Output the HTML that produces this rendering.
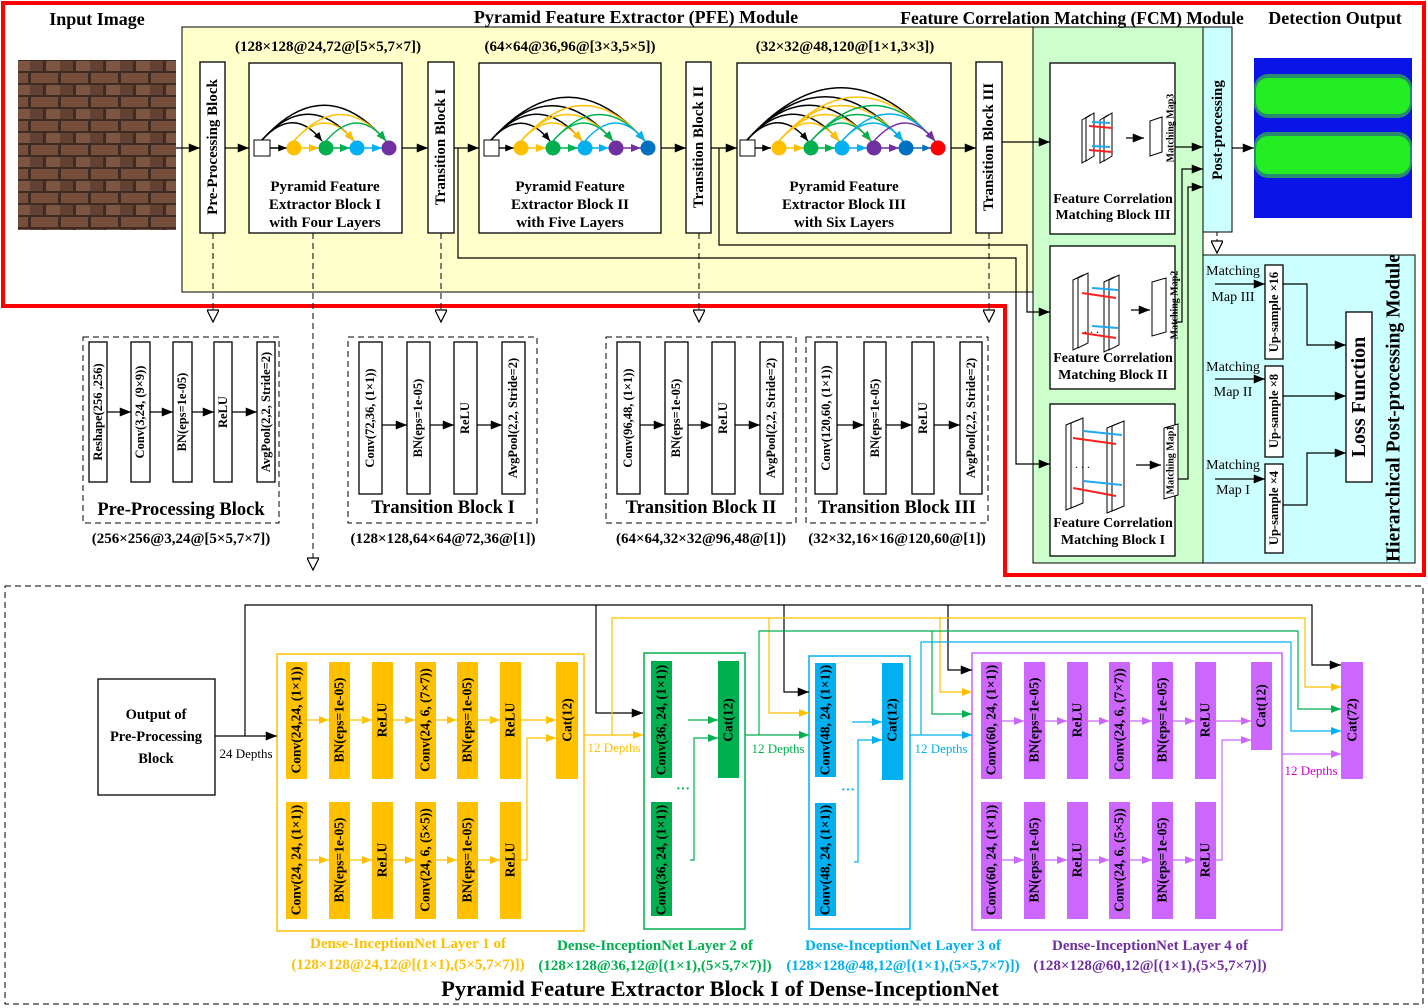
<!DOCTYPE html>
<html><head><meta charset="utf-8"><style>
html,body{margin:0;padding:0;background:#fff}
svg{display:block}
text{font-family:"Liberation Serif",serif}
.b{font-weight:bold}
.v{text-anchor:middle;dominant-baseline:central}
</style></head><body>
<svg width="1428" height="1008" viewBox="0 0 1428 1008" xmlns="http://www.w3.org/2000/svg">
<defs>
<marker id="a" viewBox="0 0 10 8" refX="10" refY="4" markerWidth="14" markerHeight="9" markerUnits="userSpaceOnUse" orient="auto"><path d="M0 0L10 4L0 8z" fill="#000"/></marker>
<marker id="as" viewBox="0 0 10 8" refX="10" refY="4" markerWidth="9" markerHeight="7" markerUnits="userSpaceOnUse" orient="auto"><path d="M0 0L10 4L0 8z" fill="#000"/></marker>
<marker id="ay" viewBox="0 0 10 8" refX="10" refY="4" markerWidth="10" markerHeight="8" markerUnits="userSpaceOnUse" orient="auto"><path d="M0 0L10 4L0 8z" fill="#ffc000"/></marker>
<marker id="ag" viewBox="0 0 10 8" refX="10" refY="4" markerWidth="10" markerHeight="8" markerUnits="userSpaceOnUse" orient="auto"><path d="M0 0L10 4L0 8z" fill="#00b050"/></marker>
<marker id="ac" viewBox="0 0 10 8" refX="10" refY="4" markerWidth="10" markerHeight="8" markerUnits="userSpaceOnUse" orient="auto"><path d="M0 0L10 4L0 8z" fill="#00b0f0"/></marker>
<marker id="ap" viewBox="0 0 10 8" refX="10" refY="4" markerWidth="10" markerHeight="8" markerUnits="userSpaceOnUse" orient="auto"><path d="M0 0L10 4L0 8z" fill="#7030a0"/></marker>
<marker id="am" viewBox="0 0 10 8" refX="10" refY="4" markerWidth="10" markerHeight="8" markerUnits="userSpaceOnUse" orient="auto"><path d="M0 0L10 4L0 8z" fill="#cc66ff"/></marker>
<marker id="ab" viewBox="0 0 10 8" refX="10" refY="4" markerWidth="9" markerHeight="7" markerUnits="userSpaceOnUse" orient="auto"><path d="M0 0L10 4L0 8z" fill="#0070c0"/></marker>
<marker id="ao" viewBox="0 0 10 10" refX="5" refY="10" markerWidth="12" markerHeight="16" markerUnits="userSpaceOnUse" orient="0"><path d="M0 0L10 0L5 10z" fill="#fff" stroke="#000" stroke-width="1"/></marker>
<pattern id="brick" width="30" height="24" patternUnits="userSpaceOnUse">
<rect width="30" height="24" fill="#3b2a22"/>
<rect x="1" y="1" width="27" height="10" fill="#8a5d47"/>
<rect x="-14" y="13" width="27" height="10" fill="#6f4a3a"/>
<rect x="16" y="13" width="27" height="10" fill="#93684f"/>
</pattern>
</defs>

<rect x="182" y="27" width="851" height="265" fill="#ffffcc" stroke="#000" stroke-width="1"/>
<rect x="1033" y="27" width="170" height="536" fill="#ccffcc" stroke="#000" stroke-width="1"/>
<rect x="1203" y="27" width="29" height="205" fill="#ccffff" stroke="#000" stroke-width="1"/>
<rect x="1203" y="255" width="212" height="308" fill="#ccffff" stroke="#000" stroke-width="1"/>
<path d="M3 3H1424V575H1005V306H3Z" fill="none" stroke="#ff0000" stroke-width="4"/>

<text x="97" y="25" class="b" font-size="18" text-anchor="middle">Input Image</text>
<text x="636" y="23" class="b" font-size="18" text-anchor="middle">Pyramid Feature Extractor (PFE) Module</text>
<text x="1072" y="24" class="b" font-size="17.5" text-anchor="middle">Feature Correlation Matching (FCM) Module</text>
<text x="1335" y="24" class="b" font-size="18" text-anchor="middle">Detection Output</text>

<rect x="18" y="60" width="158" height="170" fill="url(#brick)"/>
<rect x="18" y="60" width="158" height="170" fill="#4a3025" opacity="0.3"/>

<rect x="1254" y="58" width="158" height="160" fill="#0a14e6"/>
<rect x="1254" y="74" width="158" height="44" rx="14" fill="#2a8a70"/>
<rect x="1256" y="78" width="154" height="36" rx="12" fill="#22ee22"/>
<rect x="1254" y="132" width="158" height="46" rx="14" fill="#2a8a70"/>
<rect x="1256" y="136" width="154" height="38" rx="12" fill="#22ee22"/>

<text x="328" y="51" class="b" font-size="15" text-anchor="middle">(128×128@24,72@[5×5,7×7])</text>
<text x="570" y="51" class="b" font-size="15" text-anchor="middle">(64×64@36,96@[3×3,5×5])</text>
<text x="845" y="51" class="b" font-size="15" text-anchor="middle">(32×32@48,120@[1×1,3×3])</text>

<g fill="#fff" stroke="#000" stroke-width="1.3">
<rect x="200" y="62" width="25" height="171"/>
<rect x="249" y="63" width="153" height="170"/>
<rect x="428" y="62" width="26" height="171"/>
<rect x="479" y="63" width="182" height="170"/>
<rect x="686" y="62" width="25" height="171"/>
<rect x="737" y="63" width="214" height="170"/>
<rect x="976" y="62" width="26" height="171"/>
</g>
<g class="b" font-size="15">
<text x="213" y="147" class="v" transform="rotate(-90 213 147)">Pre-Processing Block</text>
<text x="441" y="147" class="v" transform="rotate(-90 441 147)">Transition Block I</text>
<text x="699" y="147" class="v" transform="rotate(-90 699 147)">Transition Block II</text>
<text x="989" y="147" class="v" transform="rotate(-90 989 147)">Transition Block III</text>
</g>
<g class="b" font-size="15" text-anchor="middle">
<text x="325" y="191">Pyramid Feature</text><text x="325" y="209">Extractor Block I</text><text x="325" y="227">with Four Layers</text>
<text x="570" y="191">Pyramid Feature</text><text x="570" y="209">Extractor Block II</text><text x="570" y="227">with Five Layers</text>
<text x="844" y="191">Pyramid Feature</text><text x="844" y="209">Extractor Block III</text><text x="844" y="227">with Six Layers</text>
</g>

<g stroke="#000" stroke-width="1.2" fill="none" marker-end="url(#a)">
<line x1="176" y1="148" x2="200" y2="148"/>
<line x1="225" y1="148" x2="249" y2="148"/>
<line x1="402" y1="148" x2="428" y2="148"/>
<line x1="454" y1="148" x2="479" y2="148"/>
<line x1="661" y1="148" x2="686" y2="148"/>
<line x1="711" y1="148" x2="737" y2="148"/>
<line x1="951" y1="148" x2="976" y2="148"/>
<line x1="1002" y1="142" x2="1050" y2="142"/>
<polyline points="458,148 458,258 1016,258 1016,464 1050,464"/>
<polyline points="719,148 719,245 1027,245 1027,312 1050,312"/>
<line x1="1175" y1="147" x2="1203" y2="147"/>
<polyline points="1175,322 1182,322 1182,169 1203,169"/>
<polyline points="1177,479 1188,479 1188,187 1203,187"/>
<line x1="1232" y1="148" x2="1254" y2="148"/>
</g>

<g fill="none" stroke-width="1.4">
<g stroke="#000" marker-end="url(#as)">
<path d="M262 140Q294 105 322 141"/><path d="M262 140Q309 88 354 141"/><path d="M262 140Q325 70 386 141"/>
<line x1="270" y1="148" x2="287" y2="148"/>
</g>
<g stroke="#ffc000" marker-end="url(#ay)"><path d="M294 141Q325 105 354 141"/><path d="M294 141Q341 88 386 141"/><line x1="301" y1="148" x2="319" y2="148"/></g>
<g stroke="#00b050" marker-end="url(#ag)"><path d="M326 141Q357 105 386 141"/><line x1="333" y1="148" x2="350" y2="148"/></g>
<g stroke="#00b0f0" marker-end="url(#ac)"><line x1="364" y1="148" x2="382" y2="148"/></g>
</g>
<rect x="254" y="140" width="16" height="16" fill="#fff" stroke="#000"/>
<circle cx="294" cy="148" r="7.5" fill="#ffc000"/><circle cx="326" cy="148" r="7.5" fill="#00b050"/><circle cx="357" cy="148" r="7.5" fill="#00b0f0"/><circle cx="389" cy="148" r="7.5" fill="#7030a0"/>

<g fill="none" stroke-width="1.4">
<g stroke="#000" marker-end="url(#as)">
<path d="M491 140Q522 106 550 141"/><path d="M491 140Q538 88 582 141"/><path d="M491 140Q553 71 613 141"/><path d="M491 140Q569 54 645 141"/>
<line x1="499" y1="148" x2="514" y2="148"/>
</g>
<g stroke="#ffc000" marker-end="url(#ay)"><path d="M521 141Q553 105 582 141"/><path d="M521 141Q568 88 613 141"/><path d="M521 141Q584 70 645 141"/><line x1="528" y1="148" x2="546" y2="148"/></g>
<g stroke="#00b050" marker-end="url(#ag)"><path d="M553 141Q584 105 613 141"/><path d="M553 141Q600 88 645 141"/><line x1="560" y1="148" x2="578" y2="148"/></g>
<g stroke="#00b0f0" marker-end="url(#ac)"><path d="M585 141Q616 105 645 141"/><line x1="592" y1="148" x2="609" y2="148"/></g>
<g stroke="#7030a0" marker-end="url(#ap)"><line x1="623" y1="148" x2="641" y2="148"/></g>
</g>
<rect x="484" y="140" width="15" height="16" fill="#fff" stroke="#000"/>
<circle cx="521" cy="148" r="7.5" fill="#ffc000"/><circle cx="553" cy="148" r="7.5" fill="#00b050"/><circle cx="585" cy="148" r="7.5" fill="#00b0f0"/><circle cx="616" cy="148" r="7.5" fill="#7030a0"/><circle cx="648" cy="148" r="7.5" fill="#0070c0"/>

<g fill="none" stroke-width="1.4">
<g stroke="#000" marker-end="url(#as)">
<path d="M747 140Q779 105 808 141"/><path d="M747 140Q794 88 839 141"/><path d="M747 140Q810 70 871 141"/><path d="M747 140Q826 53 903 141"/><path d="M747 140Q842 35 935 141"/>
<line x1="755" y1="148" x2="771" y2="148"/>
</g>
<g stroke="#ffc000" marker-end="url(#ay)"><path d="M779 141Q810 105 839 141"/><path d="M779 141Q826 88 871 141"/><path d="M779 141Q842 70 903 141"/><path d="M779 141Q858 53 935 141"/><line x1="786" y1="148" x2="804" y2="148"/></g>
<g stroke="#00b050" marker-end="url(#ag)"><path d="M811 141Q842 105 871 141"/><path d="M811 141Q858 88 903 141"/><path d="M811 141Q874 70 935 141"/><line x1="818" y1="148" x2="835" y2="148"/></g>
<g stroke="#00b0f0" marker-end="url(#ac)"><path d="M842 141Q874 105 903 141"/><path d="M842 141Q890 87 935 141"/><line x1="849" y1="148" x2="867" y2="148"/></g>
<g stroke="#7030a0" marker-end="url(#ap)"><path d="M874 141Q906 105 935 141"/><line x1="881" y1="148" x2="899" y2="148"/></g>
<g stroke="#0070c0" marker-end="url(#ab)"><line x1="913" y1="148" x2="931" y2="148"/></g>
</g>
<rect x="740" y="140" width="15" height="16" fill="#fff" stroke="#000"/>
<circle cx="779" cy="148" r="7.5" fill="#ffc000"/><circle cx="811" cy="148" r="7.5" fill="#00b050"/><circle cx="842" cy="148" r="7.5" fill="#00b0f0"/><circle cx="874" cy="148" r="7.5" fill="#7030a0"/><circle cx="906" cy="148" r="7.5" fill="#0070c0"/><circle cx="938" cy="148" r="7.5" fill="#ff0000"/>

<g fill="#fff" stroke="#000" stroke-width="1.3">
<rect x="1050" y="63" width="125" height="171"/>
<rect x="1050" y="246" width="125" height="143"/>
<rect x="1050" y="404" width="125" height="152"/>
</g>
<g stroke="#000" fill="#fff" stroke-width="1">
<path d="M1082 120L1090 115V158L1082 163Z"/><path d="M1086 118L1094 113V156L1086 161Z"/><path d="M1100 120L1108 115V158L1100 163Z"/><path d="M1104 118L1112 113V156L1104 161Z"/>
<path d="M1150 121L1162 117V152L1150 156Z"/>
<path d="M1073 280L1083 275V345L1073 350Z"/><path d="M1078 278L1088 273V343L1078 348Z"/><path d="M1104 282L1114 277V347L1104 352Z"/><path d="M1109 280L1119 275V345L1109 350Z"/>
<path d="M1152 282L1166 278V332L1152 336Z"/>
<path d="M1066 425L1078 420V505L1066 510Z"/><path d="M1071 423L1083 418V503L1071 508Z"/><path d="M1107 428L1119 423V508L1107 513Z"/><path d="M1112 426L1124 421V506L1112 511Z"/>
<path d="M1164 428L1178 424V495L1164 499Z"/>
</g>
<g stroke-width="2">
<line x1="1089" y1="126" x2="1112" y2="128" stroke="#ff2020"/><line x1="1089" y1="150" x2="1112" y2="152" stroke="#ff2020"/>
<line x1="1092" y1="122" x2="1110" y2="123" stroke="#20a8f0"/><line x1="1092" y1="146" x2="1110" y2="147" stroke="#20a8f0"/>
<line x1="1082" y1="293" x2="1116" y2="298" stroke="#ff2020"/><line x1="1082" y1="333" x2="1116" y2="338" stroke="#ff2020"/>
<line x1="1092" y1="288" x2="1118" y2="290" stroke="#20a8f0"/><line x1="1092" y1="326" x2="1118" y2="328" stroke="#20a8f0"/>
<line x1="1073" y1="438" x2="1116" y2="444" stroke="#ff2020"/><line x1="1073" y1="488" x2="1116" y2="496" stroke="#ff2020"/>
<line x1="1083" y1="431" x2="1122" y2="435" stroke="#20a8f0"/><line x1="1083" y1="481" x2="1122" y2="485" stroke="#20a8f0"/>
</g>
<g fill="#000"><text x="1084" y="333" font-size="12">. . .</text><text x="1075" y="468" font-size="12">. . .</text></g>
<g stroke="#000" stroke-width="1.2" marker-end="url(#a)">
<line x1="1126" y1="138" x2="1144" y2="138"/><line x1="1131" y1="310" x2="1150" y2="310"/><line x1="1136" y1="465" x2="1161" y2="465"/>
</g>
<g class="b" font-size="10">
<text x="1171" y="128" class="v" transform="rotate(-90 1171 128)">Matching Map3</text>
<text x="1175" y="305" class="v" transform="rotate(-90 1175 305)">Matching Map2</text>
<text x="1171" y="460" class="v" transform="rotate(-90 1171 460)">Matching Map1</text>
</g>
<g class="b" font-size="14" text-anchor="middle">
<text x="1113" y="203">Feature Correlation</text><text x="1113" y="219">Matching Block III</text>
<text x="1113" y="362">Feature Correlation</text><text x="1113" y="379">Matching Block II</text>
<text x="1113" y="527">Feature Correlation</text><text x="1113" y="544">Matching Block I</text>
</g>
<text x="1218" y="130" class="b v" font-size="15" transform="rotate(-90 1218 130)">Post-processing</text>
<line x1="1217" y1="232" x2="1217" y2="253" stroke="#000" stroke-dasharray="4 3" marker-end="url(#ao)"/>

<g fill="#fff" stroke="#000" stroke-width="1.3">
<rect x="1265" y="265" width="18" height="94"/><rect x="1265" y="366" width="18" height="91"/><rect x="1265" y="464" width="18" height="89"/>
<rect x="1346" y="312" width="26" height="170"/>
</g>
<g class="b" font-size="12.5">
<text x="1274" y="312" class="v" transform="rotate(-90 1274 312)">Up-sample ×16</text>
<text x="1274" y="411" class="v" transform="rotate(-90 1274 411)">Up-sample ×8</text>
<text x="1274" y="508" class="v" transform="rotate(-90 1274 508)">Up-sample ×4</text>
</g>
<text x="1359" y="397" class="b v" font-size="20" transform="rotate(-90 1359 397)">Loss Function</text>
<text x="1394" y="408" class="b v" font-size="19.5" transform="rotate(-90 1394 408)">Hierarchical Post-processing Module</text>
<g font-size="14" text-anchor="middle">
<text x="1233" y="275">Matching</text><text x="1233" y="301">Map III</text>
<text x="1233" y="371">Matching</text><text x="1233" y="396">Map II</text>
<text x="1233" y="469">Matching</text><text x="1233" y="494">Map I</text>
</g>
<g stroke="#000" stroke-width="1.2" fill="none" marker-end="url(#a)">
<line x1="1215" y1="284" x2="1265" y2="284"/><line x1="1215" y1="379" x2="1265" y2="379"/><line x1="1215" y1="479" x2="1265" y2="479"/>
<polyline points="1283,284 1307,284 1307,345 1346,345"/>
<line x1="1283" y1="396" x2="1346" y2="396"/>
<polyline points="1283,505 1307,505 1307,453 1346,453"/>
</g>

<g stroke="#000" stroke-width="1" stroke-dasharray="6 4" fill="none">
<line x1="213" y1="233" x2="213" y2="322" marker-end="url(#ao)"/>
<line x1="441" y1="233" x2="441" y2="322" marker-end="url(#ao)"/>
<line x1="699" y1="233" x2="699" y2="322" marker-end="url(#ao)"/>
<line x1="989" y1="233" x2="989" y2="322" marker-end="url(#ao)"/>
<line x1="313" y1="233" x2="313" y2="570" marker-end="url(#ao)"/>
<rect x="83" y="337" width="196" height="186"/>
<rect x="348" y="337" width="189" height="186"/>
<rect x="606" y="337" width="190" height="186"/>
<rect x="806" y="337" width="182" height="186"/>
<rect x="5" y="586" width="1418" height="418"/>
</g>

<g fill="#fff" stroke="#000" stroke-width="1.3">
<rect x="89" y="342" width="18" height="140"/><rect x="131" y="342" width="19" height="140"/><rect x="173" y="342" width="19" height="140"/><rect x="214" y="342" width="18" height="140"/><rect x="257" y="342" width="18" height="140"/>
<rect x="359" y="342" width="23" height="152"/><rect x="407" y="342" width="23" height="152"/><rect x="454" y="342" width="23" height="152"/><rect x="502" y="342" width="23" height="152"/>
<rect x="617" y="342" width="23" height="152"/><rect x="665" y="342" width="23" height="152"/><rect x="712" y="342" width="23" height="152"/><rect x="760" y="342" width="23" height="152"/>
<rect x="815" y="342" width="22" height="152"/><rect x="864" y="342" width="22" height="152"/><rect x="912" y="342" width="22" height="152"/><rect x="960" y="342" width="22" height="152"/>
</g>
<g class="b" font-size="12.5">
<text x="98" y="412" class="v" transform="rotate(-90 98 412)">Reshape(256 ,256)</text>
<text x="140" y="412" class="v" transform="rotate(-90 140 412)">Conv(3,24, (9×9))</text>
<text x="182" y="412" class="v" transform="rotate(-90 182 412)">BN(eps=1e-05)</text>
<text x="223" y="412" class="v" transform="rotate(-90 223 412)">ReLU</text>
<text x="266" y="412" class="v" transform="rotate(-90 266 412)">AvgPool(2,2, Stride=2)</text>
<text x="370" y="418" class="v" transform="rotate(-90 370 418)">Conv(72,36, (1×1))</text>
<text x="418" y="418" class="v" transform="rotate(-90 418 418)">BN(eps=1e-05)</text>
<text x="465" y="418" class="v" transform="rotate(-90 465 418)">ReLU</text>
<text x="513" y="418" class="v" transform="rotate(-90 513 418)">AvgPool(2,2, Stride=2)</text>
<text x="628" y="418" class="v" transform="rotate(-90 628 418)">Conv(96,48, (1×1))</text>
<text x="676" y="418" class="v" transform="rotate(-90 676 418)">BN(eps=1e-05)</text>
<text x="723" y="418" class="v" transform="rotate(-90 723 418)">ReLU</text>
<text x="771" y="418" class="v" transform="rotate(-90 771 418)">AvgPool(2,2, Stride=2)</text>
<text x="826" y="418" class="v" transform="rotate(-90 826 418)">Conv(120,60, (1×1))</text>
<text x="875" y="418" class="v" transform="rotate(-90 875 418)">BN(eps=1e-05)</text>
<text x="923" y="418" class="v" transform="rotate(-90 923 418)">ReLU</text>
<text x="971" y="418" class="v" transform="rotate(-90 971 418)">AvgPool(2,2, Stride=2)</text>
</g>
<g stroke="#000" stroke-width="1.2" marker-end="url(#a)">
<line x1="107" y1="412" x2="131" y2="412"/><line x1="150" y1="412" x2="173" y2="412"/><line x1="192" y1="412" x2="214" y2="412"/><line x1="232" y1="412" x2="257" y2="412"/>
<line x1="382" y1="425" x2="407" y2="425"/><line x1="430" y1="425" x2="454" y2="425"/><line x1="477" y1="425" x2="502" y2="425"/>
<line x1="640" y1="425" x2="665" y2="425"/><line x1="688" y1="425" x2="712" y2="425"/><line x1="735" y1="425" x2="760" y2="425"/>
<line x1="837" y1="425" x2="864" y2="425"/><line x1="886" y1="425" x2="912" y2="425"/><line x1="934" y1="425" x2="960" y2="425"/>
</g>
<g class="b" font-size="18.5" text-anchor="middle">
<text x="181" y="515">Pre-Processing Block</text>
<text x="443" y="513">Transition Block I</text>
<text x="701" y="513">Transition Block II</text>
<text x="897" y="513">Transition Block III</text>
</g>
<g class="b" font-size="15" text-anchor="middle">
<text x="181" y="543">(256×256@3,24@[5×5,7×7])</text>
<text x="443" y="543">(128×128,64×64@72,36@[1])</text>
<text x="701" y="543">(64×64,32×32@96,48@[1])</text>
<text x="897" y="543">(32×32,16×16@120,60@[1])</text>
</g>

<rect x="98" y="679" width="117" height="116" fill="#fff" stroke="#000" stroke-width="1.3"/>
<g class="b" font-size="14.5" text-anchor="middle"><text x="156" y="719">Output of</text><text x="156" y="741">Pre-Processing</text><text x="156" y="763">Block</text></g>
<text x="246" y="758" font-size="13" text-anchor="middle">24 Depths</text>

<rect x="277" y="654" width="307" height="277" fill="none" stroke="#ffc000" stroke-width="1.5"/>
<rect x="644" y="653" width="101" height="276" fill="none" stroke="#00b050" stroke-width="1.5"/>
<rect x="809" y="656" width="101" height="273" fill="none" stroke="#00b0f0" stroke-width="1.5"/>
<rect x="972" y="653" width="310" height="277" fill="none" stroke="#cc66ff" stroke-width="1.5"/>

<g fill="none" stroke-width="1.2">
<g stroke="#000" marker-end="url(#a)">
<line x1="215" y1="736" x2="277" y2="736"/>
<polyline points="245,736 245,605 1312,605 1312,665 1341,665"/>
<polyline points="596,605 596,713 643,713"/>
<polyline points="784,605 784,692 809,692"/>
<polyline points="948,605 948,670 972,670"/>
</g>
<g stroke="#ffc000" marker-end="url(#ay)">
<line x1="584" y1="735" x2="643" y2="735"/>
<polyline points="612,735 612,618 1305,618 1305,687 1341,687"/>
<polyline points="769,618 769,713 809,713"/>
<polyline points="940,618 940,692 972,692"/>
</g>
<g stroke="#00b050" marker-end="url(#ag)">
<line x1="745" y1="735" x2="809" y2="735"/>
<polyline points="759,735 759,631 1298,631 1298,709 1341,709"/>
<polyline points="932,631 932,714 972,714"/>
</g>
<g stroke="#00b0f0" marker-end="url(#ac)">
<line x1="910" y1="735" x2="972" y2="735"/>
<polyline points="921,735 921,642 1291,642 1291,731 1341,731"/>
</g>
<g stroke="#cc66ff" marker-end="url(#am)">
<line x1="1282" y1="754" x2="1341" y2="754"/>
</g>
</g>
<g font-size="13" text-anchor="middle">
<text x="614" y="752" fill="#ffc000">12 Depths</text>
<text x="778" y="753" fill="#00b050">12 Depths</text>
<text x="941" y="753" fill="#00b0f0">12 Depths</text>
<text x="1311" y="775" fill="#cc00cc">12 Depths</text>
</g>

<g fill="#ffc000">
<rect x="286" y="662" width="21" height="117"/><rect x="329" y="662" width="21" height="117"/><rect x="372" y="662" width="21" height="117"/><rect x="415" y="662" width="21" height="117"/><rect x="457" y="662" width="21" height="117"/><rect x="500" y="662" width="21" height="117"/>
<rect x="556" y="662" width="22" height="117"/>
<rect x="286" y="802" width="21" height="117"/><rect x="329" y="802" width="21" height="117"/><rect x="372" y="802" width="21" height="117"/><rect x="415" y="802" width="21" height="117"/><rect x="457" y="802" width="21" height="117"/><rect x="500" y="802" width="21" height="117"/>
</g>
<g fill="none" stroke="#ffc000" stroke-width="1.2" marker-end="url(#ay)">
<line x1="307" y1="720" x2="329" y2="720"/><line x1="350" y1="720" x2="372" y2="720"/><line x1="393" y1="720" x2="415" y2="720"/><line x1="436" y1="720" x2="457" y2="720"/><line x1="478" y1="720" x2="500" y2="720"/><line x1="521" y1="720" x2="556" y2="720"/>
<line x1="307" y1="860" x2="329" y2="860"/><line x1="350" y1="860" x2="372" y2="860"/><line x1="393" y1="860" x2="415" y2="860"/><line x1="436" y1="860" x2="457" y2="860"/><line x1="478" y1="860" x2="500" y2="860"/>
<polyline points="521,860 527,860 527,738 556,738"/>
</g>

<g fill="#cc66ff">
<rect x="981" y="662" width="21" height="117"/><rect x="1024" y="662" width="21" height="117"/><rect x="1067" y="662" width="21" height="117"/><rect x="1109" y="662" width="21" height="117"/><rect x="1152" y="662" width="21" height="117"/><rect x="1195" y="662" width="21" height="117"/>
<rect x="1251" y="662" width="21" height="88"/>
<rect x="1341" y="662" width="22" height="117"/>
<rect x="981" y="802" width="21" height="117"/><rect x="1024" y="802" width="21" height="117"/><rect x="1067" y="802" width="21" height="117"/><rect x="1109" y="802" width="21" height="117"/><rect x="1152" y="802" width="21" height="117"/><rect x="1195" y="802" width="21" height="117"/>
</g>
<g fill="none" stroke="#cc66ff" stroke-width="1.2" marker-end="url(#am)">
<line x1="1002" y1="721" x2="1024" y2="721"/><line x1="1045" y1="721" x2="1067" y2="721"/><line x1="1088" y1="721" x2="1109" y2="721"/><line x1="1130" y1="721" x2="1152" y2="721"/><line x1="1173" y1="721" x2="1195" y2="721"/><line x1="1216" y1="721" x2="1251" y2="721"/>
<line x1="1002" y1="860" x2="1024" y2="860"/><line x1="1045" y1="860" x2="1067" y2="860"/><line x1="1088" y1="860" x2="1109" y2="860"/><line x1="1130" y1="860" x2="1152" y2="860"/><line x1="1173" y1="860" x2="1195" y2="860"/>
<polyline points="1216,860 1222,860 1222,740 1251,740"/>
</g>

<g fill="#00b050">
<rect x="651" y="661" width="21" height="117"/><rect x="718" y="661" width="21" height="117"/><rect x="651" y="802" width="21" height="114"/>
</g>
<g fill="none" stroke="#00b050" stroke-width="1.2">
<line x1="688" y1="720" x2="718" y2="720" marker-end="url(#ag)"/>
<polyline points="690,860 694,860 694,738 718,738" marker-end="url(#ag)"/>
</g>
<text x="683" y="793" font-size="14" fill="#00b050" text-anchor="middle" class="b">···</text>

<g fill="#00b0f0">
<rect x="815" y="663" width="21" height="114"/><rect x="882" y="663" width="21" height="117"/><rect x="815" y="803" width="21" height="113"/>
</g>
<g fill="none" stroke="#00b0f0" stroke-width="1.2">
<line x1="852" y1="722" x2="882" y2="722" marker-end="url(#ac)"/>
<polyline points="854,862 858,862 858,740 882,740" marker-end="url(#ac)"/>
</g>
<text x="848" y="794" font-size="14" fill="#00b0f0" text-anchor="middle" class="b">···</text>

<g class="b" font-size="13.5">
<text x="296" y="720" class="v" transform="rotate(-90 296 720)">Conv(24,24, (1×1))</text>
<text x="339" y="720" class="v" transform="rotate(-90 339 720)">BN(eps=1e-05)</text>
<text x="382" y="720" class="v" transform="rotate(-90 382 720)">ReLU</text>
<text x="425" y="720" class="v" transform="rotate(-90 425 720)">Conv(24, 6, (7×7))</text>
<text x="467" y="720" class="v" transform="rotate(-90 467 720)">BN(eps=1e-05)</text>
<text x="510" y="720" class="v" transform="rotate(-90 510 720)">ReLU</text>
<text x="567" y="720" class="v" transform="rotate(-90 567 720)">Cat(12)</text>
<text x="296" y="860" class="v" transform="rotate(-90 296 860)">Conv(24, 24, (1×1))</text>
<text x="339" y="860" class="v" transform="rotate(-90 339 860)">BN(eps=1e-05)</text>
<text x="382" y="860" class="v" transform="rotate(-90 382 860)">ReLU</text>
<text x="425" y="860" class="v" transform="rotate(-90 425 860)">Conv(24, 6, (5×5))</text>
<text x="467" y="860" class="v" transform="rotate(-90 467 860)">BN(eps=1e-05)</text>
<text x="510" y="860" class="v" transform="rotate(-90 510 860)">ReLU</text>
<text x="661" y="720" class="v" transform="rotate(-90 661 720)">Conv(36, 24, (1×1))</text>
<text x="728" y="720" class="v" transform="rotate(-90 728 720)">Cat(12)</text>
<text x="661" y="860" class="v" transform="rotate(-90 661 860)">Conv(36, 24, (1×1))</text>
<text x="825" y="720" class="v" transform="rotate(-90 825 720)">Conv(48, 24, (1×1))</text>
<text x="892" y="720" class="v" transform="rotate(-90 892 720)">Cat(12)</text>
<text x="825" y="860" class="v" transform="rotate(-90 825 860)">Conv(48, 24, (1×1))</text>
<text x="991" y="720" class="v" transform="rotate(-90 991 720)">Conv(60, 24, (1×1))</text>
<text x="1034" y="720" class="v" transform="rotate(-90 1034 720)">BN(eps=1e-05)</text>
<text x="1077" y="720" class="v" transform="rotate(-90 1077 720)">ReLU</text>
<text x="1119" y="720" class="v" transform="rotate(-90 1119 720)">Conv(24, 6, (7×7))</text>
<text x="1162" y="720" class="v" transform="rotate(-90 1162 720)">BN(eps=1e-05)</text>
<text x="1205" y="720" class="v" transform="rotate(-90 1205 720)">ReLU</text>
<text x="1261" y="706" class="v" transform="rotate(-90 1261 706)">Cat(12)</text>
<text x="1352" y="720" class="v" transform="rotate(-90 1352 720)">Cat(72)</text>
<text x="991" y="860" class="v" transform="rotate(-90 991 860)">Conv(60, 24, (1×1))</text>
<text x="1034" y="860" class="v" transform="rotate(-90 1034 860)">BN(eps=1e-05)</text>
<text x="1077" y="860" class="v" transform="rotate(-90 1077 860)">ReLU</text>
<text x="1119" y="860" class="v" transform="rotate(-90 1119 860)">Conv(24, 6, (5×5))</text>
<text x="1162" y="860" class="v" transform="rotate(-90 1162 860)">BN(eps=1e-05)</text>
<text x="1205" y="860" class="v" transform="rotate(-90 1205 860)">ReLU</text>
</g>

<g class="b" font-size="15" text-anchor="middle">
<text x="408" y="948" fill="#ffc000">Dense-InceptionNet Layer 1 of</text>
<text x="408" y="969" fill="#ffc000">(128×128@24,12@[(1×1),(5×5,7×7)])</text>
<text x="655" y="950" fill="#00b050">Dense-InceptionNet Layer 2  of</text>
<text x="655" y="970" fill="#00b050">(128×128@36,12@[(1×1),(5×5,7×7)])</text>
<text x="903" y="950" fill="#00b0f0">Dense-InceptionNet Layer 3  of</text>
<text x="903" y="970" fill="#00b0f0">(128×128@48,12@[(1×1),(5×5,7×7)])</text>
<text x="1150" y="950" fill="#7030a0">Dense-InceptionNet Layer 4 of</text>
<text x="1150" y="970" fill="#7030a0">(128×128@60,12@[(1×1),(5×5,7×7)])</text>
</g>
<text x="720" y="996" class="b" font-size="22.5" text-anchor="middle">Pyramid Feature Extractor Block I of Dense-InceptionNet</text>
</svg>
</body></html>
